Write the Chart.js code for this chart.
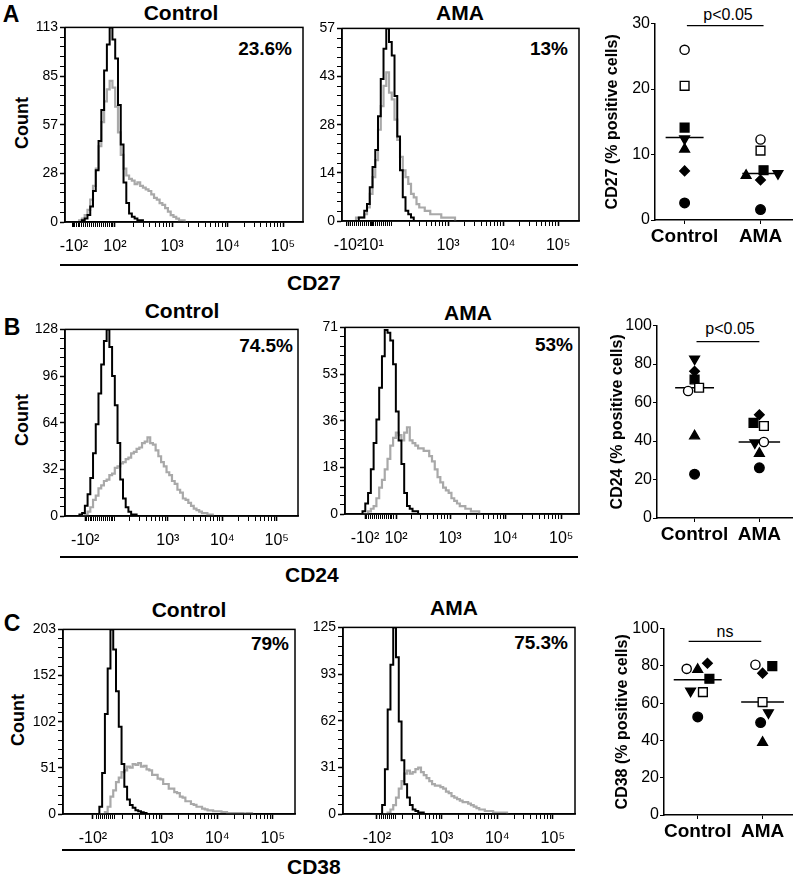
<!DOCTYPE html>
<html>
<head>
<meta charset="utf-8">
<script src="https://cdn.jsdelivr.net/npm/chart.js@4.4.1/dist/chart.umd.min.js"></script>
<style>
body{margin:0;background:#fff;width:800px;height:876px;position:relative;overflow:hidden;font-family:"Liberation Sans",Arial,sans-serif;color:#000}
.box{position:absolute}
.t{position:absolute;white-space:nowrap;transform:translate(-50%,-50%);line-height:1}
.r{position:absolute;white-space:nowrap;transform:translateY(-50%);line-height:1}
.l{position:absolute;white-space:nowrap;transform:translateY(-50%);line-height:1}
.b{font-weight:bold}
.hl{position:absolute;height:2px;background:#000}
</style>
</head>
<body>

<div class="t b" style="left:11px;top:14px;font-size:23px">A</div>
<div class="t b" style="left:12px;top:327px;font-size:23px">B</div>
<div class="t b" style="left:12px;top:623px;font-size:23px">C</div>

<div class="t b" style="left:181px;top:12px;font-size:21px">Control</div>
<div class="t b" style="left:460px;top:12px;font-size:21px">AMA</div>
<div class="t b" style="left:182px;top:310px;font-size:21px">Control</div>
<div class="t b" style="left:468px;top:312px;font-size:21px">AMA</div>
<div class="t b" style="left:189px;top:609px;font-size:21px">Control</div>
<div class="t b" style="left:454px;top:607px;font-size:21px">AMA</div>

<div class="r b" style="right:508px;top:48px;font-size:19px">23.6%</div>
<div class="r b" style="right:232px;top:48px;font-size:19px">13%</div>
<div class="r b" style="right:507px;top:345px;font-size:19px">74.5%</div>
<div class="r b" style="right:227px;top:344px;font-size:19px">53%</div>
<div class="r b" style="right:511px;top:643px;font-size:19px">79%</div>
<div class="r b" style="right:232px;top:642px;font-size:19px">75.3%</div>

<div class="t b" style="left:22px;top:123px;font-size:18px;transform:translate(-50%,-50%) rotate(-90deg)">Count</div>
<div class="t b" style="left:22px;top:420px;font-size:18px;transform:translate(-50%,-50%) rotate(-90deg)">Count</div>
<div class="t b" style="left:18px;top:720px;font-size:18px;transform:translate(-50%,-50%) rotate(-90deg)">Count</div>

<div class="hl" style="left:60px;width:518px;top:264px"></div>
<div class="hl" style="left:60px;width:518px;top:556px"></div>
<div class="hl" style="left:62px;width:513px;top:849px"></div>
<div class="l b" style="left:287px;top:282px;font-size:21px">CD27</div>
<div class="l b" style="left:285px;top:574px;font-size:21px">CD24</div>
<div class="l b" style="left:287px;top:866px;font-size:21px">CD38</div>

<div class="t" style="left:728px;top:15px;font-size:16px">p&lt;0.05</div>
<div class="t" style="left:730px;top:329px;font-size:16px">p&lt;0.05</div>
<div class="t" style="left:725px;top:632px;font-size:16px">ns</div>

<script>
Chart.defaults.font.family = '"Liberation Sans", Arial, sans-serif';
Chart.defaults.color = '#000';

// histogram bins: x is the display position in decades (10^3 -> 3), 0.05 apart
const binStep = 0.05;

// CD27
const cd27CtrlStart = 1.30;
const cd27CtrlIso = [0,0,1,2,4,9,18,30,47,65,88,103,113,106,95,68,45,23,11,5,3,2,1,1,0];
const cd27CtrlStain = [0,1,2,4,7,13,21,31,44,58,70,77,82,78,67,52,39,31,27,25,24,22,23,21,20,19,18,16,14,13,11,10,8,6,4,3,2,1,1,0];
const cd27AmaStart = 1.30;
const cd27AmaIso = [0,0,1,1,3,5,10,16,21,31,42,51,57,53,49,37,25,15,7,3,2,1,0];
const cd27AmaStain = [0,1,1,1,2,4,8,13,18,27,34,40,44,38,36,30,24,19,15,13,11,8,7,5,4,4,3,3,2,2,2,2,1,1,1,1,1,0];

// CD24
const cd24CtrlStart = 1.35;
const cd24CtrlIso = [0,1,2,7,15,26,43,63,84,104,120,128,116,96,76,50,25,12,6,3,1,1,0];
const cd24CtrlStain = [0,0,0,1,3,6,11,14,19,21,24,25,28,29,33,34,36,37,39,40,43,44,46,47,50,51,54,50,49,45,41,37,34,30,28,24,22,18,16,12,11,9,7,5,4,3,2,2,1,1,0];
const cd24AmaStart = 1.40;
const cd24AmaIso = [0,1,4,8,17,27,36,48,60,70,69,66,57,39,28,19,8,3,2,1,1,0];
const cd24AmaStain = [0,0,0,1,2,3,6,10,13,17,21,26,29,31,30,28,31,33,28,27,26,25,25,24,24,22,20,17,14,12,10,9,8,6,5,4,3,3,2,2,1,1,1,0];

// CD38
const cd38CtrlStart = 1.80;
const cd38CtrlIso = [0,0,8,45,110,160,203,181,135,96,55,30,16,10,7,4,3,2,1,0];
const cd38CtrlStain = [0,0,0,0,2,8,19,26,35,40,46,48,52,51,55,54,56,52,53,49,48,43,43,39,38,33,33,28,28,24,23,19,18,14,14,11,10,8,8,6,5,4,4,3,3,3,2,2,1,1,1,1,1,1,0,1,1,0];
const cd38AmaStart = 1.85;
const cd38AmaIso = [0,0,6,30,70,100,125,105,62,36,20,11,6,3,2,1,1,0];
const cd38AmaStain = [0,0,0,0,1,3,6,11,17,22,27,29,27,28,30,31,28,26,24,22,20,19,19,18,17,15,14,12,11,10,9,8,8,7,6,5,4,3,3,2,2,2,1,1,1,1,1,0];

// count axis labels (quarters of the max)
const cd27CtrlY = ['0','28','57','85','113'];
const cd27AmaY = ['0','14','28','43','57'];
const cd24CtrlY = ['0','32','64','96','128'];
const cd24AmaY = ['0','18','36','53','71'];
const cd38CtrlY = ['0','51','102','152','203'];
const cd38AmaY = ['0','31','62','93','125'];

// fluorescence axis labels
const cd27CtrlX = ['-10²','10²','10³','10⁴','10⁵'];
const cd27AmaX = ['-10²','10¹','10³','10⁴','10⁵'];
const cd24CtrlX = ['-10²','10³','10⁴','10⁵'];
const cd24AmaX = ['-10²','10²','10³','10⁴','10⁵'];
const cd38CtrlX = ['-10²','10³','10⁴','10⁵'];
const cd38AmaX = ['-10²','10³','10⁴','10⁵'];

// dot plots: one value per donor symbol
const groups = ['Control', 'AMA'];
const symbols = ['openCircle','openSquare','filledSquare','downTriangle','upTriangle','diamond','filledCircle'];
const cd27Control = [26.0, 20.5, 14.1, 12.4, 10.8, 7.5, 2.6];
const cd27Ama = [12.3, 10.6, 7.6, 7.1, 6.8, 6.1, 1.6];
const cd27Means = [12.6, 7.1];
const cd24Control = [66.0, 67.7, 72.0, 82.7, 42.6, 76.3, 22.8];
const cd24Ama = [39.5, 47.8, 49.4, 39.1, 33.5, 53.7, 26.1];
const cd24Means = [67.7, 39.5];
const cd38Control = [78.4, 65.9, 73.1, 66.5, 78.0, 81.4, 52.6];
const cd38Ama = [80.6, 60.6, 79.9, 54.9, 38.9, 76.1, 49.6];
const cd38Means = [72.5, 60.6];

const symbolStyle = {
  openCircle:   {pointStyle:'circle', bg:'#fff', r:4.6, rot:0},
  openSquare:   {pointStyle:'rect', bg:'#fff', r:6.2, rot:0},
  filledSquare: {pointStyle:'rect', bg:'#000', r:6.2, rot:0},
  downTriangle: {pointStyle:'triangle', bg:'#000', r:5.6, rot:180},
  upTriangle:   {pointStyle:'triangle', bg:'#000', r:5.6, rot:0},
  diamond:      {pointStyle:'rectRot', bg:'#000', r:4.8, rot:0},
  filledCircle: {pointStyle:'circle', bg:'#000', r:4.8, rot:0}
};

function bins(start, vals) {
  return vals.map((v, i) => ({x: +(start + i * binStep).toFixed(2), y: v}));
}

const boxPlugin = {
  id: 'box',
  afterDatasetsDraw(chart) {
    const a = chart.chartArea, c = chart.ctx;
    c.save();
    c.strokeStyle = '#000';
    c.lineWidth = 1.5;
    c.strokeRect(a.left, a.top, a.right - a.left, a.bottom - a.top);
    c.restore();
  }
};

function place(id, left, top, w, h) {
  const d = document.createElement('div');
  d.className = 'box';
  d.style.cssText = 'left:' + left + 'px;top:' + top + 'px;width:' + w + 'px;height:' + h + 'px';
  const cv = document.createElement('canvas');
  cv.id = id;
  d.appendChild(cv);
  document.body.appendChild(d);
  return cv;
}

function histogram(p) {
  const padTop = 8, padRight = 4, yw = 45, xh = 40;
  const cv = place(p.id, p.left - yw, p.top - padTop,
    p.right - p.left + yw + padRight, p.bottom - p.top + padTop + xh);

  const xt = p.xPos.map((v, i) => ({value: v, label: p.xLabels[i]}));
  for (let v = p.dense[0]; v <= p.dense[1] + 1e-9; v += 0.035) xt.push({value: v, label: ''});
  for (let n = 2; n <= 4; n++) {
    for (let k = 2; k <= 9; k++) {
      const v = n + Math.log10(k);
      if (v > p.dense[1] + 0.08 && v < p.max) xt.push({value: v, label: ''});
    }
  }
  const yt = [];
  for (let i = 0; i <= 20; i++) yt.push({value: p.yMax * i / 20, label: i % 5 === 0 ? p.yLabels[i / 5] : ''});

  new Chart(cv, {
    type: 'line',
    data: {
      datasets: [
        {data: bins(p.start, p.iso), borderColor: '#000', borderWidth: 2, stepped: 'middle', pointRadius: 0},
        {data: bins(p.start, p.stain), borderColor: '#a9a9a9', borderWidth: 2.2, stepped: 'middle', pointRadius: 0}
      ]
    },
    options: {
      responsive: true, maintainAspectRatio: false, animation: false, devicePixelRatio: 1,
      layout: {padding: {top: padTop, right: padRight, left: 0, bottom: 0}},
      plugins: {legend: {display: false}, tooltip: {enabled: false}},
      scales: {
        x: {
          type: 'linear', min: p.min, max: p.max,
          afterBuildTicks: ax => { ax.ticks = xt.map(t => ({value: t.value})); },
          afterFit: s => { s.height = xh; },
          ticks: {autoSkip: false, maxRotation: 0, minRotation: 0, padding: 10,
            font: {size: 16}, callback: (v, i) => xt[i].label},
          grid: {drawOnChartArea: false, drawTicks: true, tickLength: 5, color: '#000',
            tickWidth: c => (xt[c.index] && xt[c.index].label ? 1.6 : 1)},
          border: {color: '#000', width: 1.5}
        },
        y: {
          min: 0, max: p.yMax,
          afterBuildTicks: ax => { ax.ticks = yt.map(t => ({value: t.value})); },
          afterFit: s => { s.width = yw; },
          ticks: {autoSkip: false, padding: 2, font: {size: 14}, callback: (v, i) => yt[i].label},
          grid: {drawOnChartArea: false, drawTicks: true, tickLength: 5, color: '#000',
            tickWidth: c => (yt[c.index] && yt[c.index].label ? 1.5 : 1)},
          border: {color: '#000', width: 1.5}
        }
      }
    },
    plugins: [boxPlugin]
  });
}

function dotPlot(p) {
  const padTop = 10, xh = 30;
  const cv = place(p.id, p.boxLeft, p.top - padTop, 800 - p.boxLeft, p.bottom - p.top + padTop + xh);
  const datasets = symbols.map((s, i) => {
    const st = symbolStyle[s];
    return {
      data: [{x: 1 + p.jitC[i], y: p.ctrl[i]}, {x: 2 + p.jitA[i], y: p.ama[i]}],
      pointStyle: st.pointStyle, pointRotation: st.rot, pointRadius: st.r,
      backgroundColor: st.bg, borderColor: '#000', borderWidth: 1.4
    };
  });
  datasets.push({data: [{x: 1 - p.hw[0], y: p.means[0]}, {x: 1 + p.hw[0], y: p.means[0]}],
    showLine: true, pointRadius: 0, borderColor: '#000', borderWidth: 1.5});
  datasets.push({data: [{x: 2 - p.hw[1], y: p.means[1]}, {x: 2 + p.hw[1], y: p.means[1]}],
    showLine: true, pointRadius: 0, borderColor: '#000', borderWidth: 1.5});
  datasets.push({data: [{x: p.bar[0], y: p.bar[2]}, {x: p.bar[1], y: p.bar[2]}],
    showLine: true, pointRadius: 0, borderColor: '#000', borderWidth: 1.3, clip: false});

  new Chart(cv, {
    type: 'scatter',
    data: {datasets},
    options: {
      responsive: true, maintainAspectRatio: false, animation: false, devicePixelRatio: 1,
      layout: {padding: {top: padTop, right: 800 - p.right, left: 0, bottom: 0}},
      plugins: {legend: {display: false}, tooltip: {enabled: false}},
      scales: {
        x: {
          type: 'linear', min: p.xMin, max: p.xMax,
          afterBuildTicks: ax => { ax.ticks = [{value: 1}, {value: 2}]; },
          afterFit: s => { s.height = xh; },
          ticks: {autoSkip: false, maxRotation: 0, padding: 1, font: {size: 19, weight: 'bold'},
            callback: (v, i) => groups[i]},
          grid: {drawOnChartArea: false, drawTicks: true, tickLength: 4, color: '#000'},
          border: {color: '#000', width: 1.5}
        },
        y: {
          min: 0, max: p.yMax,
          ticks: {stepSize: p.yStep, padding: 1, font: {size: 16}},
          afterFit: s => { s.width = p.left - p.boxLeft; },
          title: {display: true, text: p.title, font: {size: 16, weight: 'bold'}, padding: 0},
          grid: {drawOnChartArea: false, drawTicks: true, tickLength: 4, color: '#000'},
          border: {color: '#000', width: 1.5}
        }
      }
    }
  });
}

histogram({id: 'h1', left: 65, top: 25, right: 303, bottom: 222, min: 1.07, max: 5.36,
  start: cd27CtrlStart, iso: cd27CtrlIso, stain: cd27CtrlStain, yMax: 113, yLabels: cd27CtrlY,
  xLabels: cd27CtrlX, xPos: [1.23, 1.97, 3, 4, 5], dense: [1.2, 2.0]});
histogram({id: 'h2', left: 342, top: 26, right: 579, bottom: 221, min: 1.07, max: 5.38,
  start: cd27AmaStart, iso: cd27AmaIso, stain: cd27AmaStain, yMax: 57, yLabels: cd27AmaY,
  xLabels: cd27AmaX, xPos: [1.18, 1.62, 3, 4, 5], dense: [1.16, 1.98]});
histogram({id: 'h3', left: 65, top: 327, right: 298, bottom: 516, min: 1.11, max: 5.39,
  start: cd24CtrlStart, iso: cd24CtrlIso, stain: cd24CtrlStain, yMax: 128, yLabels: cd24CtrlY,
  xLabels: cd24CtrlX, xPos: [1.48, 3, 4, 5], dense: [1.5, 2.05]});
histogram({id: 'h4', left: 345, top: 325, right: 579, bottom: 514, min: 1.11, max: 5.32,
  start: cd24AmaStart, iso: cd24AmaIso, stain: cd24AmaStain, yMax: 71, yLabels: cd24AmaY,
  xLabels: cd24AmaX, xPos: [1.47, 2.03, 3, 4, 5], dense: [1.5, 2.0]});
histogram({id: 'h5', left: 63, top: 627, right: 295, bottom: 814, min: 1.22, max: 5.40,
  start: cd38CtrlStart, iso: cd38CtrlIso, stain: cd38CtrlStain, yMax: 203, yLabels: cd38CtrlY,
  xLabels: cd38CtrlX, xPos: [1.76, 3, 4, 5], dense: [1.83, 2.15]});
histogram({id: 'h6', left: 343, top: 625, right: 575, bottom: 814, min: 1.22, max: 5.40,
  start: cd38AmaStart, iso: cd38AmaIso, stain: cd38AmaStain, yMax: 125, yLabels: cd38AmaY,
  xLabels: cd38AmaX, xPos: [1.83, 3, 4, 5], dense: [1.88, 2.19]});

dotPlot({id: 'd1', boxLeft: 603, left: 655, top: 23, right: 798, bottom: 220, xMin: 0.61, xMax: 2.42,
  yMax: 30, yStep: 10, title: 'CD27 (% positive cells)',
  ctrl: cd27Control, ama: cd27Ama, means: cd27Means, hw: [0.25, 0.24],
  jitC: [0,0,0,0,0,0,0], jitA: [0,0,0.04,0.23,-0.19,0,0], bar: [1.03, 2.04, 29.7]});
dotPlot({id: 'd2', boxLeft: 608, left: 657, top: 325, right: 797, bottom: 518, xMin: 0.42, xMax: 2.51,
  yMax: 100, yStep: 20, title: 'CD24 (% positive cells)',
  ctrl: cd24Control, ama: cd24Ama, means: cd24Means, hw: [0.30, 0.32],
  jitC: [-0.10,0.07,0,0,0,0,0], jitA: [0.07,0.07,-0.09,-0.07,0,0,0], bar: [1.03, 2.0, 91.7]});
dotPlot({id: 'd3', boxLeft: 613, left: 664, top: 628, right: 793, bottom: 815, xMin: 0.48, xMax: 2.46,
  yMax: 100, yStep: 20, title: 'CD38 (% positive cells)',
  ctrl: cd38Control, ama: cd38Ama, means: cd38Means, hw: [0.37, 0.33],
  jitC: [-0.17,0.08,0.18,-0.11,0,0.15,0], jitA: [-0.11,0,0.15,0.09,0,0,-0.03], bar: [0.86, 1.98, 93.2]});
</script>
</body>
</html>
